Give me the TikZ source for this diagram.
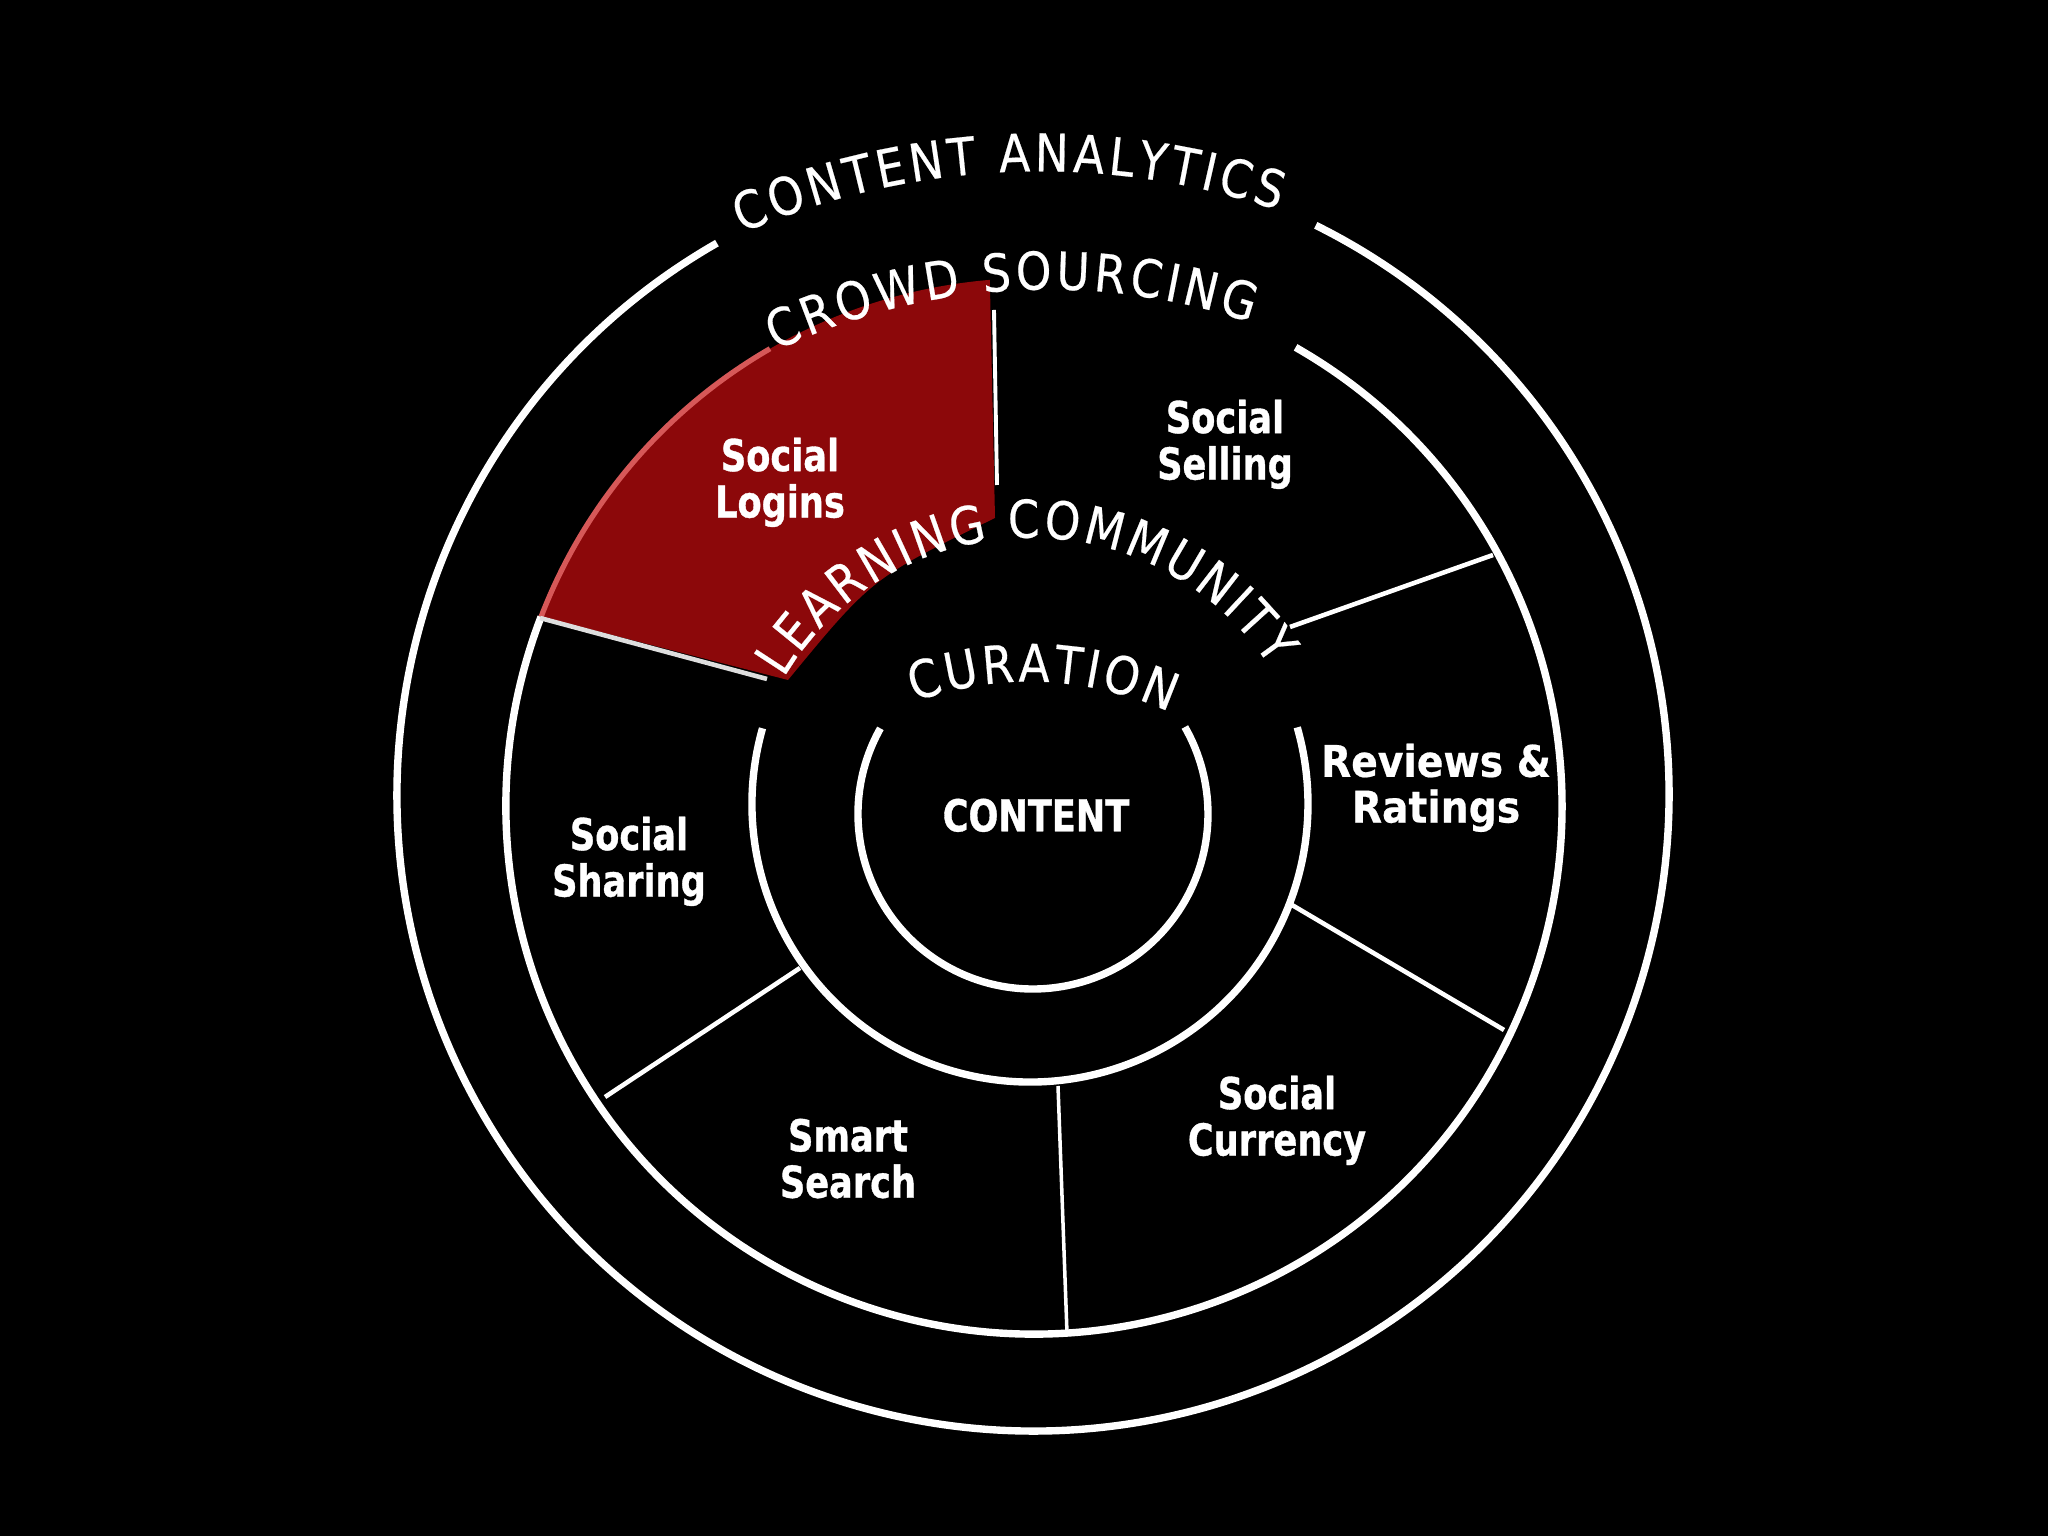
\documentclass[tikz,border=0pt]{standalone}
\usepackage{fontspec}
\usetikzlibrary{decorations.text}
\setmainfont{DejaVu Sans}
\newfontfamily\ringfont[FakeStretch=0.87,FakeBold=0.4]{DejaVu Sans}
\newfontfamily\lblfont[FakeStretch=0.8,FakeBold=0.8]{DejaVu Sans Bold}
\newfontfamily\revfont[FakeStretch=0.9,FakeBold=0.5]{DejaVu Sans Bold}
\definecolor{sectorred}{RGB}{140,8,10}
\definecolor{sectoredge}{RGB}{214,88,88}
\definecolor{divgray}{RGB}{222,222,222}
\begin{document}
\begin{tikzpicture}[x=0.01cm,y=0.01cm,
  ring/.style={draw=white, line width=2.1pt},
  divider/.style={draw=white, line width=1.3pt},
  lbl/.style={text=white, font=\lblfont\fontsize{12.5pt}{13.2pt}\selectfont, align=center, anchor=north, inner sep=0pt},
  revlbl/.style={text=white, font=\revfont\fontsize{12.4pt}{13.0pt}\selectfont, align=center, anchor=north, inner sep=0pt},
  ringtext/.style={decorate, decoration={text along path, text={|\ringfont\fontsize{14.8pt}{17pt}\selectfont|#1}, text align={fit to path}, text color=white}}
]
\fill[black] (0,0) rectangle (2048,1536);
\useasboundingbox (0,0) rectangle (2048,1536);

% centres of the rings
\coordinate (cO) at (1033,741);
\coordinate (c2) at (1034,730);
\coordinate (c3) at (1030,732);
\coordinate (cI) at (1033,722);

% second ring (white part)
\draw[ring] (c2) ++(159:528) arc[start angle=159, end angle=420.3, radius=528];

% red sector: Social Logins
\fill[sectorred] (c2) ++(94.8:528) arc[start angle=94.8, end angle=159, radius=528]
  -- (788,856) .. controls (872,958) .. (995,1018) -- cycle;
\draw[sectoredge, line width=1.5pt] (c2) ++(120:528) arc[start angle=120, end angle=159, radius=528];

% outer ring
\draw[ring] (cO) ++(119.8:636) arc[start angle=119.8, end angle=423.6, radius=636];
% third ring
\draw[ring] (c3) ++(164.2:278) arc[start angle=164.2, end angle=376, radius=278];
% inner ring
\draw[ring] (cI) ++(150.7:175) arc[start angle=150.7, end angle=389.8, radius=175];

% dividers
\coordinate (d1a) at (994,1226);  \coordinate (d1b) at (997,1051);
\coordinate (d2a) at (540,918);   \coordinate (d2b) at (767,857);
\coordinate (d3a) at (1290,909);  \coordinate (d3b) at (1493,981);
\coordinate (d4a) at (1292,631);  \coordinate (d4b) at (1504,506);
\coordinate (d5a) at (1058,450);  \coordinate (d5b) at (1067,203);
\coordinate (d6a) at (800,568);   \coordinate (d6b) at (605,439);
\draw[divider, line width=1.1pt] (d1a) -- (d1b);
\draw[divider, draw=divgray] (d2a) -- (d2b);
\draw[divider] (d3a) -- (d3b);
\draw[divider] (d4a) -- (d4b);
\draw[divider, line width=1pt] (d5a) -- (d5b);
\draw[divider] (d6a) -- (d6b);

% ring texts
\path[ringtext={CONTENT ANALYTICS}] (741.9,1302.8) arc[start angle=113.45, end angle=71.47, radius=749];
\path[ringtext={CROWD SOURCING}] (775.8,1185.2) arc[start angle=115.4, end angle=71.4, radius=635];
\path[ringtext={LEARNING COMMUNITY}] (783.8,858.0) arc[start angle=149.3, end angle=33.3, radius=286.7];
\path[ringtext={CURATION}] (914.4,834.2) arc[start angle=109.8, end angle=65.6, radius=339];

% labels
\node[lbl] (logins) at (780,1099) {Social\\Logins};
\node[lbl] (selling) at (1225,1137) {Social\\Selling};
\node[lbl] (sharing) at (629,720) {Social\\Sharing};
\node[lbl] (search) at (848,418) {Smart\\Search};
\node[lbl] (currency) at (1277,461) {Social\\Currency};
\node[revlbl] (reviews) at (1436,793) {Reviews \&\\Ratings};
\node[lbl] (content) at (1036,738) {CONTENT};
\end{tikzpicture}
\end{document}
